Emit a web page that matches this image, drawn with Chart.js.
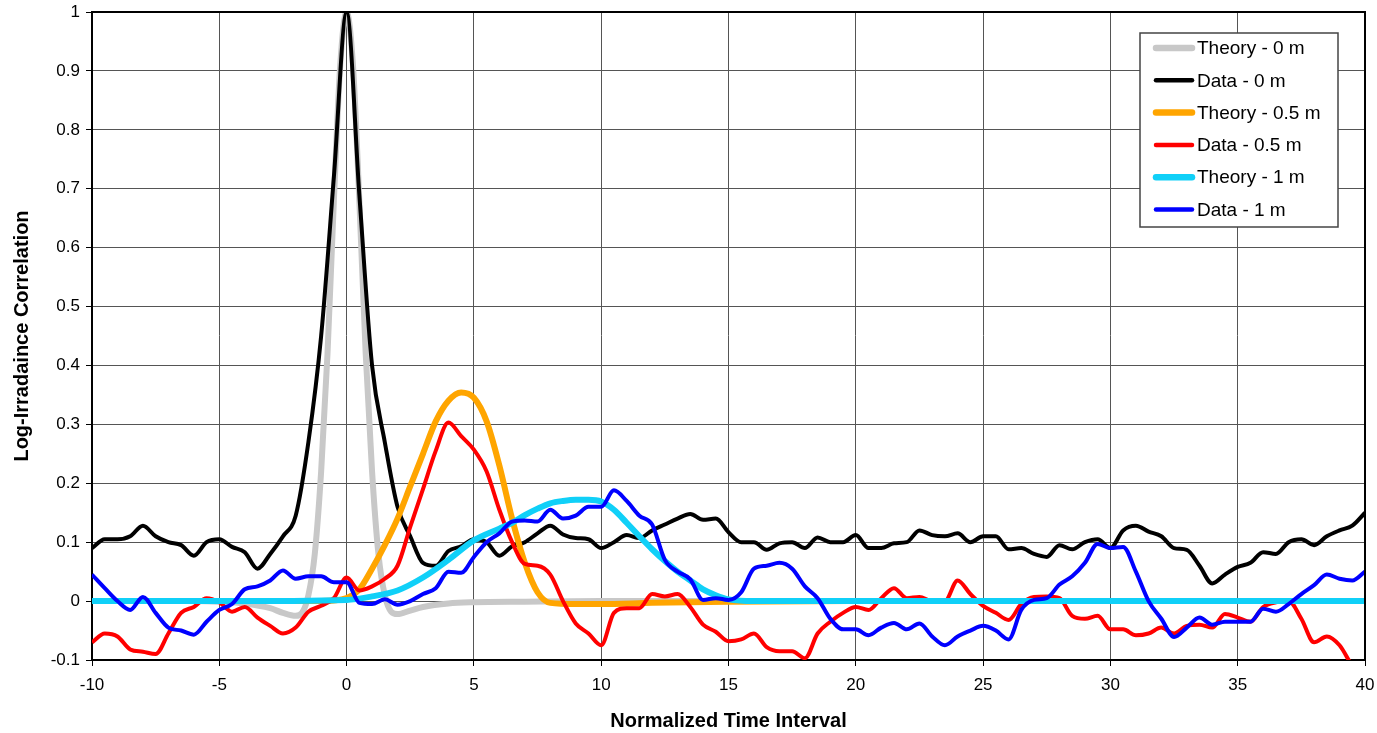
<!DOCTYPE html>
<html lang="en">
<head>
    <meta charset="UTF-8">
    <title>Log-Irradaince Correlation</title>
    <script src="https://cdn.jsdelivr.net/npm/chart.js@4.4.1/dist/chart.umd.min.js"></script>
    <style>
        body { margin: 0; background: #fff; }
        #chart { display: block; }
    </style>
</head>
<body>
    <canvas id="chart" width="1377" height="733"></canvas>

    <script>
        // sample times for the measured curves (step 0.5)
        const tData = [
            -10, -9.5, -9, -8.5, -8, -7.5, -7, -6.5, -6, -5.5, -5, -4.5, -4, -3.5, -3, -2.5, -2, -1.5, -1, -0.5,
            0, 0.5, 1, 1.5, 2, 2.5, 3, 3.5, 4, 4.5, 5, 5.5, 6, 6.5, 7, 7.5, 8, 8.5, 9, 9.5,
            10, 10.5, 11, 11.5, 12, 12.5, 13, 13.5, 14, 14.5, 15, 15.5, 16, 16.5, 17, 17.5, 18, 18.5, 19, 19.5,
            20, 20.5, 21, 21.5, 22, 22.5, 23, 23.5, 24, 24.5, 25, 25.5, 26, 26.5, 27, 27.5, 28, 28.5, 29, 29.5,
            30, 30.5, 31, 31.5, 32, 32.5, 33, 33.5, 34, 34.5, 35, 35.5, 36, 36.5, 37, 37.5, 38, 38.5, 39, 39.5, 40
        ];

        const data0m = [
            0.09, 0.105, 0.105, 0.11, 0.128, 0.11, 0.1, 0.095, 0.077, 0.1, 0.105, 0.092, 0.083, 0.055, 0.08, 0.11, 0.145, 0.27, 0.45, 0.72,
            1.0, 0.69, 0.4, 0.27, 0.16, 0.11, 0.065, 0.06, 0.085, 0.093, 0.105, 0.1, 0.077, 0.093, 0.1, 0.115, 0.128, 0.113, 0.107, 0.105,
            0.09, 0.1, 0.112, 0.107, 0.12, 0.13, 0.14, 0.148, 0.138, 0.14, 0.117, 0.1, 0.1, 0.087, 0.098, 0.1, 0.09, 0.108, 0.1, 0.1,
            0.112, 0.09, 0.09, 0.098, 0.1, 0.12, 0.112, 0.11, 0.115, 0.1, 0.11, 0.11, 0.088, 0.09, 0.08, 0.075, 0.095, 0.088, 0.1, 0.105,
            0.09, 0.12, 0.128, 0.118, 0.11, 0.09, 0.087, 0.06, 0.03, 0.045, 0.058, 0.065, 0.083, 0.08, 0.1, 0.105, 0.095, 0.11, 0.12, 0.128, 0.15
        ];

        const data05m = [
            -0.07, -0.055, -0.06, -0.082, -0.086, -0.09, -0.055, -0.02, -0.01, 0.005, -0.002, -0.018, -0.01, -0.028, -0.042, -0.055, -0.045, -0.018, -0.008, 0.005,
            0.04, 0.018, 0.025, 0.038, 0.06, 0.126, 0.19, 0.255, 0.303, 0.28, 0.257, 0.22, 0.155, 0.1, 0.063, 0.06, 0.045, 0.0, -0.038, -0.055,
            -0.075, -0.02, -0.012, -0.012, 0.012, 0.008, 0.012, -0.01, -0.04, -0.052, -0.068, -0.065, -0.055, -0.078, -0.085, -0.085, -0.097, -0.055, -0.035, -0.02,
            -0.01, -0.015, 0.005, 0.022, 0.005, 0.007, 0.0, 0.0, 0.035, 0.012, -0.008, -0.02, -0.032, -0.005, 0.007, 0.008, 0.005, -0.025, -0.03, -0.025,
            -0.048, -0.048, -0.058, -0.055, -0.045, -0.055, -0.042, -0.04, -0.045, -0.022, -0.028, -0.035, -0.01, -0.002, 0.0, -0.03, -0.07, -0.06, -0.075, -0.11, -0.135
        ];

        const data1m = [
            0.045, 0.022, 0.0, -0.015, 0.007, -0.02, -0.045, -0.05, -0.057, -0.035, -0.015, -0.005, 0.02, 0.025, 0.035, 0.052, 0.038, 0.042, 0.042, 0.032,
            0.032, -0.003, -0.005, 0.003, -0.006, 0.0, 0.012, 0.022, 0.05, 0.048, 0.075, 0.1, 0.115, 0.135, 0.137, 0.135, 0.155, 0.14, 0.145, 0.16,
            0.16, 0.188, 0.17, 0.145, 0.13, 0.07, 0.05, 0.037, 0.002, 0.005, 0.002, 0.015, 0.055, 0.06, 0.065, 0.055, 0.025, 0.005, -0.03, -0.048,
            -0.048, -0.058, -0.045, -0.037, -0.048, -0.038, -0.06, -0.075, -0.06, -0.05, -0.042, -0.05, -0.065, -0.015, 0.002, 0.005, 0.028, 0.042, 0.065, 0.097,
            0.09, 0.092, 0.05, 0.0, -0.03, -0.061, -0.045, -0.028, -0.04, -0.035, -0.035, -0.035, -0.013, -0.018, -0.005, 0.012, 0.027, 0.045, 0.038, 0.035, 0.05
        ];

        // theory curves, sampled where their shape changes
        const theory0X = [-10, -6, -5, -4, -3, -2.5, -2, -1.75, -1.5, -1.25, -1, -0.75, -0.5, -0.25, 0, 0.25, 0.5, 0.75, 1, 1.25, 1.5, 1.75, 2, 2.5, 3, 4, 5, 7, 10, 40];
        const theory0Y = [0, 0, -0.001, -0.004, -0.012, -0.02, -0.025, -0.02, 0.01, 0.08, 0.22, 0.42, 0.68, 0.91, 1.0, 0.91, 0.68, 0.42, 0.22, 0.08, 0.01, -0.018, -0.022, -0.016, -0.01, -0.004, -0.002, -0.001, 0, 0];

        const theory05X = [-10, -2, -1, 0, 0.5, 1, 1.5, 2, 2.5, 3, 3.5, 4, 4.5, 5, 5.5, 6, 6.5, 7, 7.5, 8, 9, 10, 12, 15, 20, 40];
        const theory05Y = [0, 0, 0, 0.005, 0.02, 0.055, 0.095, 0.14, 0.195, 0.25, 0.305, 0.34, 0.354, 0.345, 0.305, 0.23, 0.14, 0.065, 0.015, -0.003, -0.005, -0.005, -0.003, -0.001, 0, 0];

        const theory1X = [-10, -5, 0, 1, 2, 3, 4, 5, 6, 6.5, 7, 7.5, 8, 8.5, 9, 9.5, 10, 10.5, 11, 11.5, 12, 12.5, 13, 13.5, 14, 14.5, 15, 16, 40];
        const theory1Y = [0, 0, 0.002, 0.008, 0.018, 0.04, 0.07, 0.103, 0.123, 0.133, 0.146, 0.157, 0.166, 0.17, 0.172, 0.172, 0.169, 0.155, 0.133, 0.11, 0.088, 0.068, 0.05, 0.035, 0.02, 0.01, 0.003, 0, 0];

        const seriesNames = ['Theory - 0 m', 'Data - 0 m', 'Theory - 0.5 m', 'Data - 0.5 m', 'Theory - 1 m', 'Data - 1 m'];

        function pts(xs, ys) {
            return xs.map((x, i) => ({ x: x, y: ys[i] }));
        }

        function line(label, xs, ys, color, width, order) {
            return {
                label: label,
                data: pts(xs, ys),
                borderColor: color,
                backgroundColor: color,
                borderWidth: width,
                pointRadius: 0,
                cubicInterpolationMode: 'monotone',
                fill: false,
                order: order
            };
        }

        // plot frame (top and right edges) + legend box inside the plot
        const framePlugin = {
            id: 'frame',
            afterDatasetsDraw(chart) {
                const a = chart.chartArea;
                const ctx = chart.ctx;
                ctx.save();
                ctx.strokeStyle = '#000';
                ctx.lineWidth = 2;
                ctx.beginPath();
                ctx.moveTo(a.left, a.top);
                ctx.lineTo(a.right, a.top);
                ctx.lineTo(a.right, a.bottom);
                ctx.stroke();
                ctx.restore();
            },
            afterDraw(chart) {
                const ctx = chart.ctx;
                ctx.save();
                ctx.fillStyle = '#fff';
                ctx.fillRect(1140, 33, 198, 194);
                ctx.strokeStyle = '#444';
                ctx.lineWidth = 1.5;
                ctx.strokeRect(1140, 33, 198, 194);
                ctx.font = '19px "Liberation Sans", Arial, sans-serif';
                ctx.textBaseline = 'middle';
                chart.data.datasets.forEach((ds, i) => {
                    const y = 48 + i * 32.3;
                    ctx.strokeStyle = ds.borderColor;
                    ctx.lineWidth = ds.borderWidth + 0.5;
                    ctx.lineCap = 'round';
                    ctx.beginPath();
                    ctx.moveTo(1156, y);
                    ctx.lineTo(1192, y);
                    ctx.stroke();
                    ctx.fillStyle = '#000';
                    ctx.fillText(ds.label, 1197, y + 1);
                });
                ctx.restore();
            }
        };

        const tickFont = { family: '"Liberation Sans", Arial, sans-serif', size: 17 };
        const titleFont = { family: '"Liberation Sans", Arial, sans-serif', size: 20, weight: 'bold' };

        new Chart(document.getElementById('chart'), {
            type: 'line',
            data: {
                datasets: [
                    line(seriesNames[0], theory0X, theory0Y, '#c8c8c8', 6, 6),
                    line(seriesNames[1], tData, data0m, '#000000', 4, 5),
                    line(seriesNames[2], theory05X, theory05Y, '#ffa500', 6, 4),
                    line(seriesNames[3], tData, data05m, '#ff0000', 4, 3),
                    line(seriesNames[4], theory1X, theory1Y, '#10d0f8', 6, 2),
                    line(seriesNames[5], tData, data1m, '#0000ff', 4, 1)
                ]
            },
            options: {
                responsive: false,
                animation: false,
                devicePixelRatio: 1,
                layout: { padding: { left: 0, top: 12, right: 12, bottom: 0 } },
                plugins: {
                    legend: { display: false },
                    tooltip: { enabled: false }
                },
                scales: {
                    x: {
                        type: 'linear',
                        min: -10,
                        max: 40,
                        ticks: { stepSize: 5, color: '#000', font: tickFont, padding: 9, maxRotation: 0 },
                        grid: { color: '#555', lineWidth: 1, tickLength: 6, tickColor: '#000' },
                        border: { color: '#000', width: 2 },
                        title: { display: true, text: 'Normalized Time Interval', color: '#000', font: titleFont, padding: { top: 0, bottom: 0 } },
                        afterFit(s) { s.height = 73; s.paddingLeft = 0; s.paddingRight = 0; }
                    },
                    y: {
                        min: -0.1,
                        max: 1,
                        ticks: {
                            stepSize: 0.1,
                            color: '#000',
                            font: tickFont,
                            padding: 6,
                            callback: v => String(parseFloat(v.toFixed(1)))
                        },
                        grid: { color: '#555', lineWidth: 1, tickLength: 6, tickColor: '#000' },
                        border: { color: '#000', width: 2 },
                        title: { display: true, text: 'Log-Irradaince Correlation', color: '#000', font: titleFont, padding: { top: 10, bottom: 0 } },
                        afterFit(s) { s.width = 92; s.paddingTop = 0; s.paddingBottom = 0; }
                    }
                }
            },
            plugins: [framePlugin]
        });
    </script>
</body>
</html>
